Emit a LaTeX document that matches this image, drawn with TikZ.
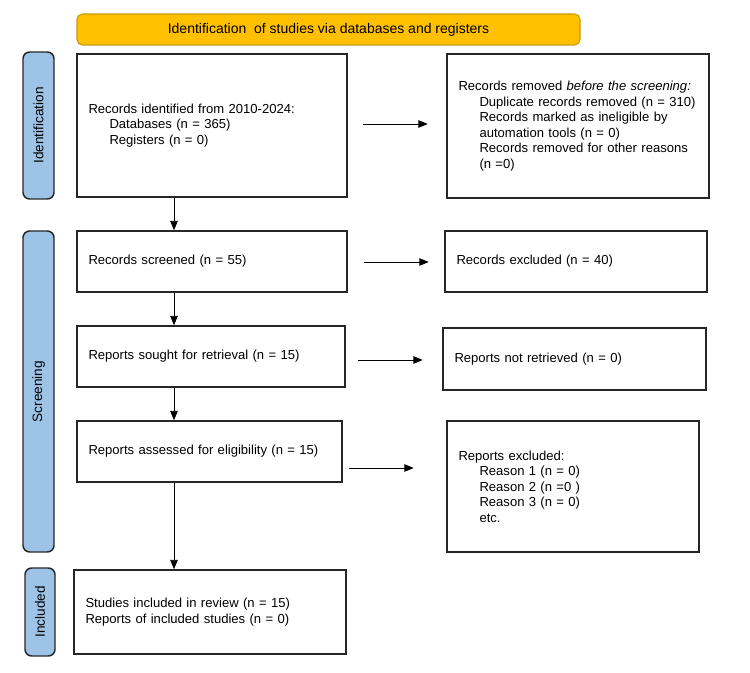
\documentclass[tikz,border=0pt]{standalone}
\usepackage{fontspec}
\setmainfont{Liberation Sans}
\usetikzlibrary{calc,arrows.meta}

\definecolor{headgold}{HTML}{FFC000}
\definecolor{headedge}{HTML}{C99A10}
\definecolor{stageblue}{HTML}{9DC3E6}
\definecolor{boxedge}{HTML}{262626}

\newcommand{\sublead}{\hspace*{15.75pt}}

\tikzset{
  recbox/.style 2 args={draw=boxedge, line width=1.1pt, rectangle,
    minimum width=#1*0.75pt, minimum height=#2*0.75pt,
    text width={(#1-23)*0.75pt}, inner xsep=8.625pt, inner ysep=0pt,
    align=left, font=\fontsize{9.8}{11.6}\selectfont},
  stage/.style 2 args={draw=boxedge, fill=stageblue, line width=1.1pt,
    rounded corners=5pt, rotate=90, inner sep=0pt,
    minimum width=#2*0.75pt, minimum height=#1*0.75pt,
    font=\fontsize{10.2}{12}\selectfont},
  header/.style={draw=headedge, fill=headgold, line width=0.8pt,
    rounded corners=4pt, inner sep=0pt,
    minimum width=503*0.75pt, minimum height=31*0.75pt,
    font=\fontsize{10.5}{12}\selectfont},
  flow/.style={->, line width=0.6pt}
}

\begin{document}
\begin{tikzpicture}[x=0.75pt, y=-0.75pt, >={Triangle[length=7pt,width=5.6pt]}]

  % Parameters
  \def\spinex{174}    % x of the downward arrows
  \def\gap{65}        % length of the side arrows

  \useasboundingbox (0,0) rectangle (750,673);

  % Header
  \node[header] (head) at (328.5,29.5) {Identification\ \ of studies via databases and registers};

  % Stage bars
  \node[stage={31}{147}] (stident) at (38.5,125.5) {Identification};
  \node[stage={31}{321}] (stscreen) at (38.5,391.5) {Screening};
  \node[stage={30}{88}] (stincl) at (40,612) {Included};

  % Main column
  \node[recbox={270}{143}] (ident) at (212,125.5)
    {Records identified from 2010-2024:\\
     \sublead Databases (n = 365)\\
     \sublead Registers (n = 0)};
  \node[recbox={270}{61}] (screened) at (212,261.5) {Records screened (n = 55)};
  \node[recbox={268}{61}] (sought) at (211,356.5) {Reports sought for retrieval (n = 15)};
  \node[recbox={265}{61}] (assessed) at (209.5,451.5) {Reports assessed for eligibility (n = 15)};
  \node[recbox={272}{84}] (included) at (210,612)
    {Studies included in review (n = 15)\\
     Reports of included studies (n = 0)};

  % Side column
  \node[recbox={262}{144}] (removed) at (578,126)
    {Records removed \textit{before the screening:}\\
     \sublead Duplicate records removed (n = 310)\\
     \sublead Records marked as ineligible by\\
     \sublead automation tools (n = 0)\\
     \sublead Records removed for other reasons\\
     \sublead (n =0)};
  \node[recbox={262}{61}] (excluded) at (576,261.5) {Records excluded (n = 40)};
  \node[recbox={263}{62}] (notretr) at (574.5,359) {Reports not retrieved (n = 0)};
  \node[recbox={252}{131}] (reasons) at (573,486.5)
    {Reports excluded:\\
     \sublead Reason 1 (n = 0)\\
     \sublead Reason 2 (n =0 )\\
     \sublead Reason 3 (n = 0)\\
     \sublead etc.};

  % Downward arrows
  \coordinate (spine) at (\spinex,0);
  \draw[flow] (ident.south -| spine) -- (screened.north -| spine);
  \draw[flow] (screened.south -| spine) -- (sought.north -| spine);
  \draw[flow] (sought.south -| spine) -- (assessed.north -| spine);
  \draw[flow] (assessed.south -| spine) -- (included.north -| spine);

  % Side arrows
  \draw[flow] ($(ident.east)+(15,-1.5)$) -- ++(\gap,0);
  \draw[flow] ($(screened.east)+(16,0.5)$) -- ++(\gap,0);
  \draw[flow] ($(sought.east)+(12,3.5)$) -- ++(\gap,0);
  \draw[flow] ($(assessed.east)+(6,16.5)$) -- ++(\gap,0);

\end{tikzpicture}
\end{document}
